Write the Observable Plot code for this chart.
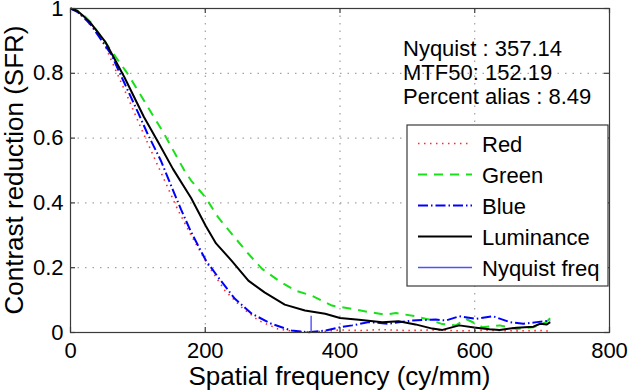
<!DOCTYPE html>
<html><head><meta charset="utf-8">
<script src="https://cdn.jsdelivr.net/npm/d3@7"></script>
<script src="https://cdn.jsdelivr.net/npm/@observablehq/plot@0.6"></script>
<style>
html,body{margin:0;padding:0;background:#fff;}
#wrap{position:relative;width:632px;height:392px;}
#wrap svg{position:absolute;left:0;top:0;}
</style></head><body><div id="wrap"></div>
<script>
// ---- data ----
const xTicks = [0, 200, 400, 600, 800];
const yTicks = [0, 0.2, 0.4, 0.6, 0.8, 1];
const gridX = [200, 400, 600];
const gridY = [0.2, 0.4, 0.6, 0.8];

const redFreq = [0, 10, 20, 45, 65, 85, 104, 124, 144, 159, 179, 189, 206, 229, 254, 279, 308, 333, 360, 380, 400, 430, 460, 500, 540, 580, 620, 660, 700, 712];
const redSFR  = [1, 0.99, 0.97, 0.915, 0.819, 0.726, 0.634, 0.541, 0.449, 0.38, 0.3, 0.263, 0.202, 0.13, 0.078, 0.037, 0.011, 0.003, 0.002, 0.004, 0.008, 0.006, 0.009, 0.006, 0.008, 0.005, 0.007, 0.005, 0.006, 0.004];

const greenFreq = [0, 10, 20, 30, 55, 85, 109, 139, 169, 179, 200, 219, 239, 264, 284, 309, 333, 358, 388, 418, 443, 468, 483, 512, 532, 552, 572, 587, 612, 637, 662, 687, 706, 716];
const greenSFR  = [1, 0.993, 0.978, 0.958, 0.886, 0.798, 0.716, 0.613, 0.5, 0.469, 0.418, 0.356, 0.305, 0.243, 0.197, 0.16, 0.13, 0.114, 0.083, 0.073, 0.063, 0.055, 0.06, 0.05, 0.04, 0.026, 0.022, 0.042, 0.016, 0.022, 0.011, 0.016, 0.032, 0.052];

const blueFreq = [0, 10, 20, 30, 60, 80, 100, 114, 134, 149, 164, 179, 201, 219, 244, 269, 298, 328, 353, 378, 400, 418, 443, 472, 507, 542, 557, 577, 602, 627, 652, 672, 692, 712];
const blueSFR  = [1, 0.99, 0.972, 0.95, 0.86, 0.77, 0.68, 0.615, 0.531, 0.455, 0.38, 0.31, 0.222, 0.171, 0.104, 0.058, 0.027, 0.006, 0.001, 0.006, 0.016, 0.022, 0.032, 0.027, 0.037, 0.04, 0.037, 0.05, 0.042, 0.05, 0.032, 0.027, 0.032, 0.037];

const lumFreq = [0, 10, 20, 30, 52, 80, 109, 130, 152, 179, 201, 216, 239, 264, 288, 318, 348, 378, 400, 428, 463, 487, 512, 537, 552, 577, 602, 622, 637, 662, 687, 697, 707, 712];
const lumSFR  = [1, 0.993, 0.975, 0.955, 0.896, 0.788, 0.665, 0.588, 0.505, 0.415, 0.328, 0.275, 0.222, 0.16, 0.124, 0.086, 0.068, 0.058, 0.045, 0.039, 0.032, 0.035, 0.025, 0.012, 0.008, 0.022, 0.015, 0.01, 0.008, 0.015, 0.018, 0.027, 0.025, 0.032];

const nyquistFreq = 357.14;
const nyquistMarker = [0, 0.05];
const mtf50 = 152.19;
const percentAlias = 8.49;
const seriesNames = ["Red", "Green", "Blue", "Luminance", "Nyquist freq"];
const infoLines = [`Nyquist : ${nyquistFreq}`, `MTF50: ${mtf50}`, `Percent alias : ${percentAlias}`];

// ---- styles ----
const styles = [
  {stroke: "#ff2a2a", strokeWidth: 1.6, dash: "1.5,4.5"},
  {stroke: "#19e019", strokeWidth: 2, dash: "9,7"},
  {stroke: "#0000ff", strokeWidth: 2, dash: "10,3,1.5,3"},
  {stroke: "#000000", strokeWidth: 2, dash: null},
  {stroke: "#5050ff", strokeWidth: 1.4, dash: null}
];

const rows = (f, v) => f.map((x, i) => ({x, y: v[i]}));

const W = 632, H = 392, mL = 70, mR = 23, mT = 8, mB = 60;
const fw = W - mL - mR, fh = H - mT - mB;
const font = '"Liberation Sans", Arial, Helvetica, sans-serif';
const axisColor = "#3a3a3a";

const lineMark = (data, s) => Plot.line(data, {x: "x", y: "y", stroke: s.stroke, strokeWidth: s.strokeWidth, strokeDasharray: s.dash ?? undefined, strokeLinecap: "butt"});

const chart = Plot.plot({
  width: W, height: H,
  marginLeft: mL, marginRight: mR, marginTop: mT, marginBottom: mB,
  style: {fontFamily: font, fontSize: "22px", color: "#000", background: "transparent", overflow: "visible"},
  x: {domain: [0, 800], label: null},
  y: {domain: [0, 1], label: null},
  marks: [
    Plot.ruleX(gridX, {x: d => d, stroke: "#8c8c8c", strokeWidth: 1, strokeDasharray: "1.5,6"}),
    Plot.ruleY(gridY, {y: d => d, stroke: "#8c8c8c", strokeWidth: 1, strokeDasharray: "1.5,6"}),
    lineMark(rows(redFreq, redSFR), styles[0]),
    lineMark(rows(greenFreq, greenSFR), styles[1]),
    lineMark(rows(blueFreq, blueSFR), styles[2]),
    lineMark(rows(lumFreq, lumSFR), styles[3]),
    Plot.ruleX([nyquistFreq], {x: d => d, y1: nyquistMarker[0], y2: nyquistMarker[1], stroke: styles[4].stroke, strokeWidth: styles[4].strokeWidth}),
    Plot.frame({stroke: axisColor, strokeWidth: 1.2}),
    Plot.ruleX(xTicks, {x: d => d, insetTop: fh - 5, stroke: axisColor, strokeWidth: 1.2}),
    Plot.ruleX(xTicks, {x: d => d, insetBottom: fh - 5, stroke: axisColor, strokeWidth: 1.2}),
    Plot.ruleY(yTicks, {y: d => d, insetRight: fw - 5, stroke: axisColor, strokeWidth: 1.2}),
    Plot.ruleY(yTicks, {y: d => d, insetLeft: fw - 5, stroke: axisColor, strokeWidth: 1.2}),
    Plot.axisX({ticks: xTicks, tickSize: 0, tickPadding: 10, label: null, fontSize: 22, tickFormat: d => String(d)}),
    Plot.axisY({ticks: yTicks, tickSize: 0, tickPadding: 7, label: null, fontSize: 22, tickFormat: d => String(d)})
  ]
});
const wrap = document.getElementById("wrap");
wrap.appendChild(chart);

// ---- overlay: labels, info text, legend ----
const svg = d3.select(wrap).append("svg")
  .attr("width", W).attr("height", H)
  .attr("font-family", font).attr("fill", "#000");

svg.append("text").attr("x", mL + fw / 2).attr("y", 385)
  .attr("text-anchor", "middle").attr("font-size", 26)
  .text("Spatial frequency (cy/mm)");
svg.append("text").attr("transform", `translate(23,${mT + fh / 2}) rotate(-90)`)
  .attr("text-anchor", "middle").attr("font-size", 26)
  .text("Contrast reduction (SFR)");

infoLines.forEach((t, i) => {
  svg.append("text").attr("x", 403).attr("y", 56 + i * 24).attr("font-size", 22).text(t);
});

const lg = svg.append("g");
lg.append("rect").attr("x", 407).attr("y", 125).attr("width", 201).attr("height", 161)
  .attr("fill", "#fff").attr("stroke", axisColor).attr("stroke-width", 1.2);
seriesNames.forEach((name, i) => {
  const s = styles[i];
  const y = 143.5 + i * 31;
  lg.append("line").attr("x1", 418).attr("x2", 472).attr("y1", y).attr("y2", y)
    .attr("stroke", s.stroke).attr("stroke-width", s.strokeWidth)
    .attr("stroke-dasharray", s.dash);
  lg.append("text").attr("x", 482).attr("y", y + 8).attr("font-size", 22).text(name);
});
</script>
</body></html>
